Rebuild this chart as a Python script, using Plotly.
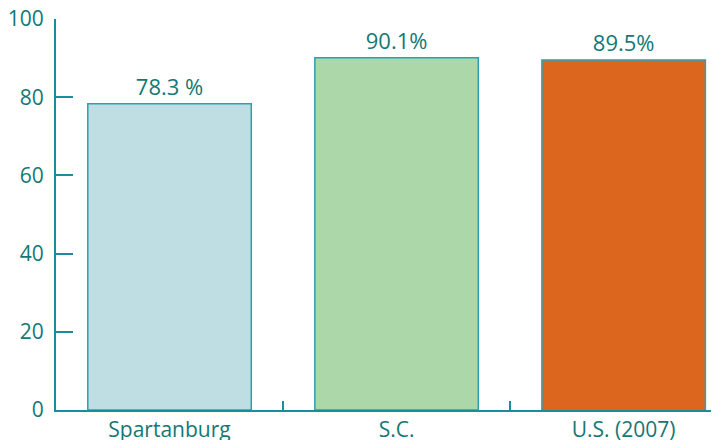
import plotly.graph_objects as go

categories = ["Spartanburg", "S.C.", "U.S. (2007)"]
values = [78.3, 90.1, 89.5]
bar_labels = ["78.3 %", "90.1%", "89.5%"]
colors = ["#bfdee3", "#abd7a9", "#dc661e"]
y_ticks = [0, 20, 40, 60, 80, 100]

teal = "#1a8d9c"
text_teal = "#137875"
font = "Open Sans"

fig = go.Figure()
fig.add_trace(go.Bar(
    x=list(range(len(categories))), y=values,
    marker=dict(color=colors, line=dict(color="#2b9fb3", width=1.5)),
    text=bar_labels, textposition="outside", cliponaxis=False,
    textfont=dict(family=font, size=22, color=text_teal),
    width=0.72, showlegend=False,
))
# invisible trace on second x-axis to draw between-category ticks
fig.add_trace(go.Scatter(x=[0.5, 1.5], y=[0, 0], xaxis="x2", mode="markers",
                         marker=dict(opacity=0), showlegend=False, hoverinfo="skip"))

fig.update_layout(
    width=719, height=440,
    margin=dict(l=48, r=8, t=11, b=38, autoexpand=False),
    paper_bgcolor="white", plot_bgcolor="white",
    xaxis=dict(range=[-0.5, 2.42], tickvals=list(range(len(categories))),
               ticktext=categories, ticks="", showgrid=False, zeroline=False,
               showline=True, linecolor=teal, linewidth=2, automargin=False,
               tickfont=dict(family=font, size=21, color=text_teal)),
    xaxis2=dict(range=[-0.5, 2.42], overlaying="x", tickvals=[0.5, 1.5],
                showticklabels=False, ticks="inside", ticklen=9, tickcolor=teal,
                tickwidth=1.5, showgrid=False, zeroline=False, showline=False,
                anchor="y", side="bottom", automargin=False),
    yaxis=dict(range=[0, 100], tickvals=y_ticks, ticks="inside", ticklen=17,
               tickcolor=teal, tickwidth=2, showgrid=False, zeroline=False,
               showline=True, linecolor=teal, linewidth=2, ticklabelstandoff=6,
               ticklabeloverflow="allow", automargin=False,
               tickfont=dict(family=font, size=21, color=text_teal)),
)
fig.write_html("out.html")
